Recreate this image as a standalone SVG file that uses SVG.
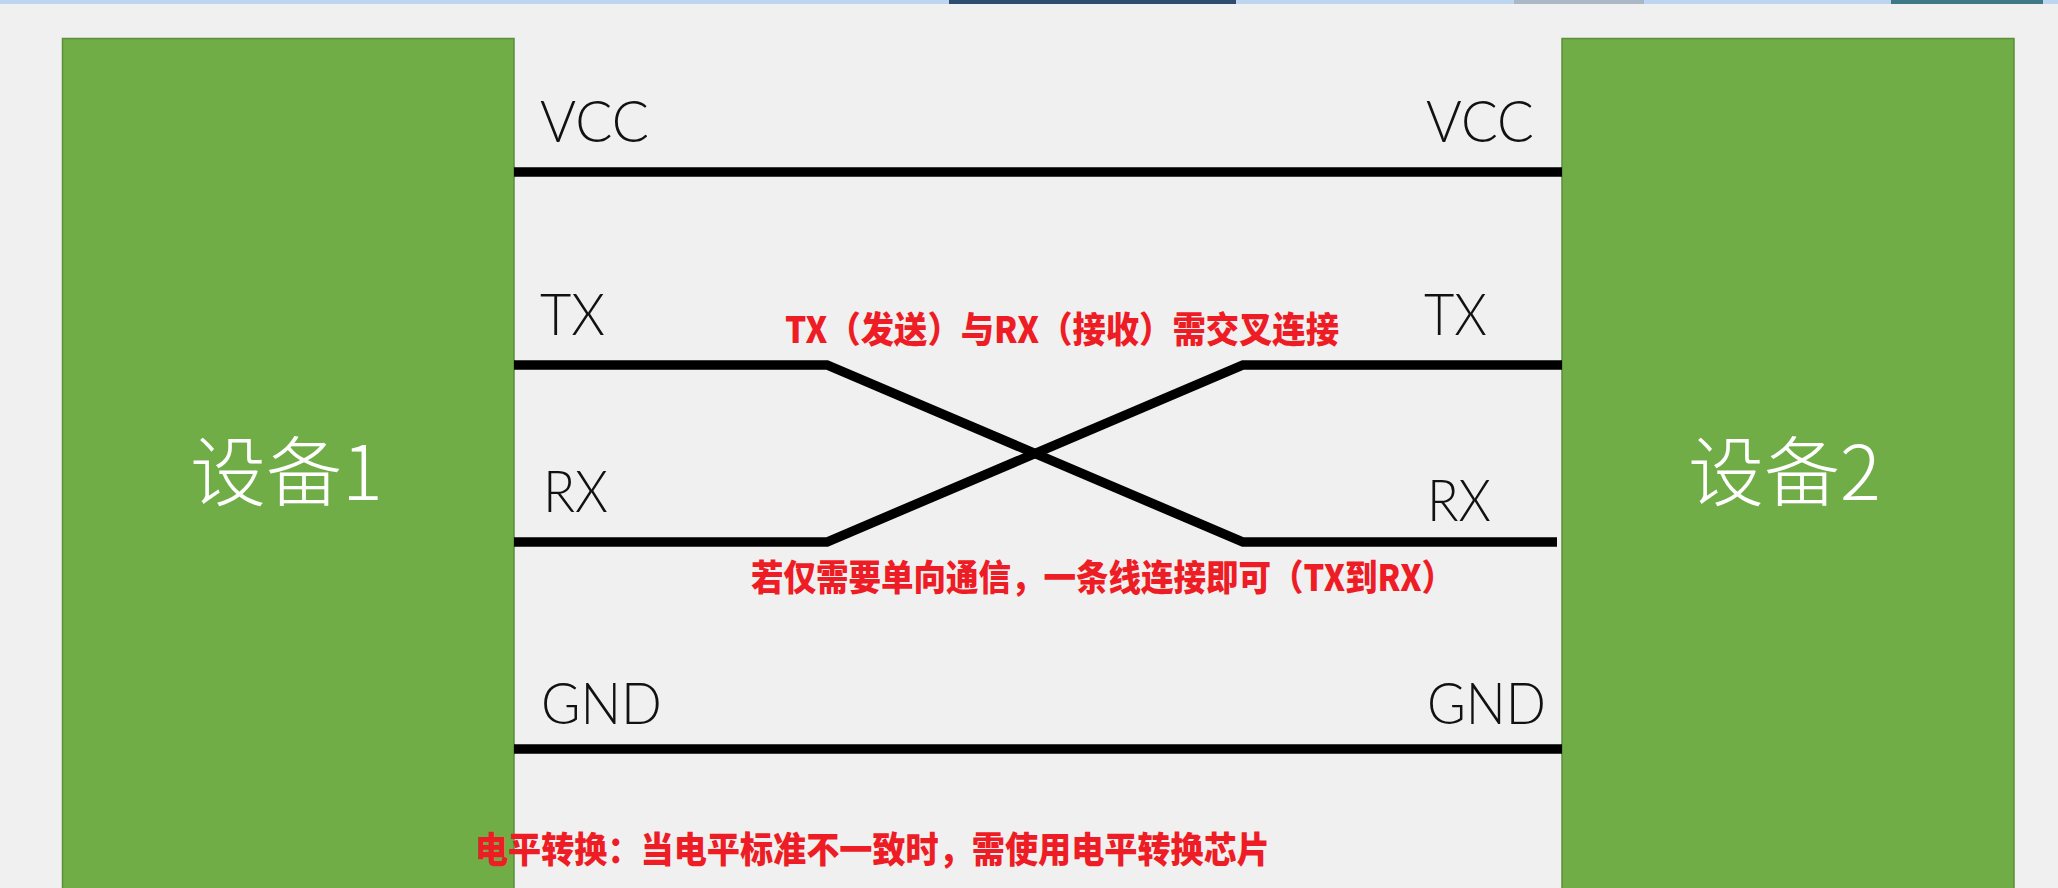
<svg xmlns="http://www.w3.org/2000/svg" width="2058" height="888" viewBox="0 0 2058 888">
<style>
.dev{fill:#70AD47;stroke:#5B8E3A;stroke-width:1.5}
.devt{font-family:"Noto Sans CJK SC","Noto Sans",sans-serif;font-weight:200;font-size:76px;fill:#FFFFFF}
.pin{font-family:Lato,"Noto Sans",sans-serif;font-weight:300;font-size:58px;fill:#111111}
.wire{fill:none;stroke:#000000;stroke-width:9.5;stroke-linejoin:miter}
.note{font-family:"Noto Sans CJK SC","Noto Sans",sans-serif;font-weight:900;font-size:36px;fill:#EE1C25}
</style>
<rect x="0" y="0" width="2058" height="888" fill="#F0F0F0"/>
<g id="topstrip">
<rect x="0" y="0" width="2058" height="4" fill="#BDD5F0"/>
<rect x="949" y="0" width="287" height="4" fill="#2E4B70"/>
<rect x="1514" y="0" width="130" height="4" fill="#A9B8C4"/>
<rect x="1891" y="0" width="152" height="4" fill="#3E7A86"/>
</g>
<g id="device1">
<rect class="dev" x="62.5" y="38.5" width="451.5" height="860"/>
<text class="devt" x="190" y="500">设备1</text>
</g>
<g id="device2">
<rect class="dev" x="1562" y="38.5" width="452" height="860"/>
<text class="devt" x="1688" y="500">设备2</text>
</g>
<g id="connectors">
<line class="wire" x1="514" y1="172" x2="1562" y2="172"/>
<polyline class="wire" points="514,365 827,365 1243,542 1557,542"/>
<polyline class="wire" points="514,542 827,542 1243,365 1562,365"/>
<line class="wire" x1="514" y1="749" x2="1562" y2="749"/>
</g>
<g id="labels">
<text class="pin" x="540" y="142" textLength="109" lengthAdjust="spacingAndGlyphs">VCC</text>
<text class="pin" x="1426" y="142" textLength="108" lengthAdjust="spacingAndGlyphs">VCC</text>
<text class="pin" x="540" y="335" textLength="65" lengthAdjust="spacingAndGlyphs">TX</text>
<text class="pin" x="1424" y="335" textLength="63" lengthAdjust="spacingAndGlyphs">TX</text>
<text class="pin" x="543" y="512" textLength="65" lengthAdjust="spacingAndGlyphs">RX</text>
<text class="pin" x="1427" y="521" textLength="64" lengthAdjust="spacingAndGlyphs">RX</text>
<text class="pin" x="541" y="724" textLength="121" lengthAdjust="spacingAndGlyphs">GND</text>
<text class="pin" x="1427" y="724" textLength="119" lengthAdjust="spacingAndGlyphs">GND</text>
</g>
<g id="notes">
<text class="note" x="785" y="343" textLength="554" lengthAdjust="spacingAndGlyphs">TX（发送）与RX（接收）需交叉连接</text>
<text class="note" x="751" y="591" textLength="703" lengthAdjust="spacingAndGlyphs">若仅需要单向通信，一条线连接即可（TX到RX）</text>
<text class="note" x="475" y="863" font-size="37" textLength="795" lengthAdjust="spacingAndGlyphs">电平转换：当电平标准不一致时，需使用电平转换芯片</text>
</g>
</svg>
